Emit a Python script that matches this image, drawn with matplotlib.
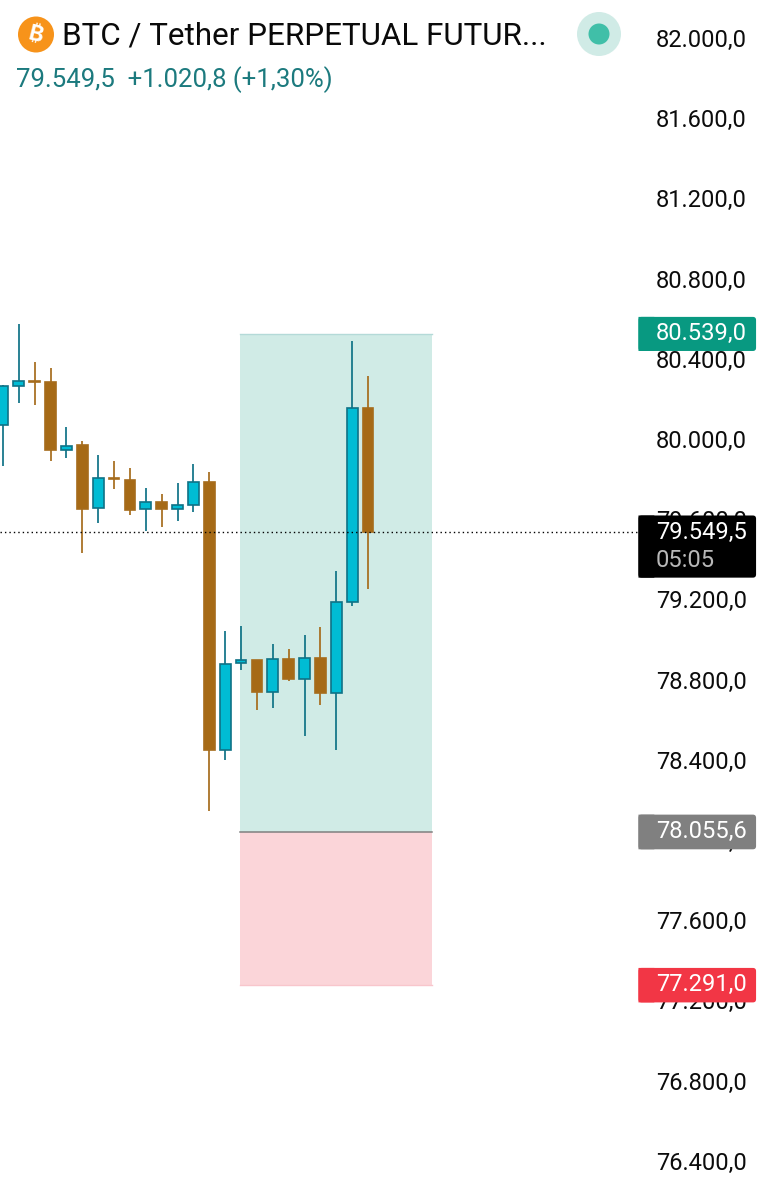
import matplotlib
matplotlib.use("Agg")
import matplotlib.pyplot as plt
from matplotlib.patches import Circle, FancyBboxPatch, Rectangle

plt.rcParams['font.family'] = ['Roboto', 'DejaVu Sans']

# candles
opens = [80085, 80279, 80304, 80299, 79960, 79984, 79669, 79822, 79812, 79664, 79701, 79666,
         79687, 79799, 78465, 78898, 78911, 78755, 78919, 78818, 78923, 78747, 79202, 80170]
highs = [80282, 80589, 80398, 80368, 80073, 80003, 79937, 79907, 79872, 79769, 79742, 79795,
         79892, 79849, 79059, 79081, 78911, 78991, 78966, 79037, 79079, 79355, 80502, 80329]
lows = [79882, 80196, 80186, 79907, 79920, 79448, 79596, 79767, 79636, 79558, 79575, 79608,
        79649, 78160, 78413, 78863, 78662, 78675, 78806, 78535, 78688, 78462, 79184, 79267]
closes = [80278, 80303, 80299, 79960, 79982, 79666, 79822, 79815, 79662, 79701, 79664, 79686,
          79799, 78465, 78894, 78911, 78753, 78919, 78817, 78924, 78747, 79200, 80170, 79549.5]

tick_prices = [82000, 81600, 81200, 80800, 80400, 80000, 79600, 79200, 78800, 78400, 78000,
               77600, 77200, 76800, 76400]

last_price = 79549.5
target_price = 80539.0
entry_price = 78055.6
stop_price = 77291.0

title = "BTC / Tether PERPETUAL FUTUR..."
subtitle = "79.549,5  +1.020,8 (+1,30%)"
countdown = "05:05"

UP_BODY = "#00BCD4"
UP_EDGE = "#0F7286"
DOWN_BODY = "#A66A16"
DOWN_EDGE = "#A66C1C"
X_PX = 15.87     # px per candle
Y_PX = 0.2005    # px per price unit
LABEL_UP = 3     # axis labels sit slightly above their price
LABEL_SIZE = 17.1
LABEL_X = 46.87


def price_text(p):
    return f"{p:,.1f}".replace(",", "_").replace(".", ",").replace("_", ".")


def price_tag(ax, low, high, color, z=6):
    left, right = 40.04, 47.45
    box = FancyBboxPatch((left, low), right - left, high - low,
                         boxstyle="round,pad=0,rounding_size=0.2",
                         mutation_aspect=X_PX / Y_PX, fc=color, ec="none", zorder=z)
    ax.add_patch(box)
    # left side of the tag is square
    ax.add_patch(Rectangle((left, low), 1, high - low, fc=color, ec="none", zorder=z, snap=False))


fig = plt.figure(figsize=(7.64, 11.99), dpi=100)
ax = fig.add_axes([0, 0, 1, 1])
ax.set_xlim(-0.189, 47.95)
ax.set_ylim(76224.5, 82204.5)
ax.axis("off")

# long position tool
zone_left, zone_w = 14.93, 12.1
ax.add_patch(Rectangle((zone_left, entry_price), zone_w, target_price - entry_price,
                       fc="#D0EBE6", ec="none", zorder=1))
ax.add_patch(Rectangle((zone_left, stop_price), zone_w, entry_price - stop_price,
                       fc="#FBD5D9", ec="none", zorder=1))
ax.plot([zone_left, zone_left + zone_w], [target_price, target_price], color="#B4DAD8", lw=1, zorder=2)
ax.plot([zone_left, zone_left + zone_w], [entry_price, entry_price], color="#808080", lw=1.1, zorder=2)
ax.plot([zone_left, zone_left + zone_w], [stop_price, stop_price], color="#F8C6CC", lw=1, zorder=2)

# candles
for i in range(len(opens)):
    up = closes[i] >= opens[i]
    edge = UP_EDGE if up else DOWN_EDGE
    body = UP_BODY if up else DOWN_BODY
    ax.plot([i, i], [lows[i], highs[i]], color=edge, lw=1.25, solid_capstyle="butt", zorder=3)
    ax.bar(i, abs(closes[i] - opens[i]), bottom=min(opens[i], closes[i]), width=0.68,
           color=body, edgecolor=edge, linewidth=1.2, zorder=4)

# last price line
ax.plot([-0.189, 40.04], [last_price, last_price], color="black", lw=1.0,
        linestyle=(0, (1, 2.2)), zorder=5)

# price axis labels
for p in tick_prices:
    ax.text(LABEL_X, p + LABEL_UP, price_text(p), ha="right", va="center", fontsize=LABEL_SIZE,
            color="#0C0C0C", zorder=5)

# price tags
price_tag(ax, target_price - 85, target_price + 85, "#089981")
ax.text(LABEL_X, target_price + LABEL_UP, price_text(target_price), ha="right", va="center",
        fontsize=LABEL_SIZE, color="#FFFFFF", zorder=7)

price_tag(ax, last_price - 226, last_price + 84, "#000000")
ax.text(LABEL_X, last_price - 1, price_text(last_price), ha="right", va="center",
        fontsize=LABEL_SIZE, color="#FFFFFF", zorder=7)
ax.text(41.1, last_price - 142, countdown, ha="left", va="center",
        fontsize=LABEL_SIZE, color="#B8B8B8", zorder=7)

price_tag(ax, entry_price - 87, entry_price + 86, "#808080")
ax.text(LABEL_X, entry_price + LABEL_UP, price_text(entry_price), ha="right", va="center",
        fontsize=LABEL_SIZE, color="#FFFFFF", zorder=7)

price_tag(ax, stop_price - 86, stop_price + 86, "#F23645")
ax.text(LABEL_X, stop_price + LABEL_UP, price_text(stop_price), ha="right", va="center",
        fontsize=LABEL_SIZE, color="#FFFFFF", zorder=7)

# header in pixel coordinates
hdr = fig.add_axes([0, 0, 1, 1])
hdr.set_xlim(0, 764)
hdr.set_ylim(1199, 0)
hdr.axis("off")
hdr.patch.set_alpha(0)
hdr.add_patch(Circle((36, 34.5), 18, fc="#F7931A", ec="none"))
hdr.text(36, 35, "\u20bf", ha="center", va="center", fontsize=16, color="white",
         fontweight="bold", rotation=-14,
         family=["Inter", "Noto Sans", "Open Sans", "Lato", "Roboto", "Liberation Sans", "DejaVu Sans"])
hdr.text(62, 36, title, ha="left", va="center", fontsize=22.6, color="#0A0A0A")
hdr.text(16, 80, subtitle, ha="left", va="center", fontsize=18.5, color="#1C7A7E")
hdr.add_patch(Circle((599, 34), 22, fc="#D0EBE6", ec="none"))
hdr.add_patch(Circle((599, 34), 10.5, fc="#40BFA8", ec="none"))

fig.savefig("out.png", dpi=100)
